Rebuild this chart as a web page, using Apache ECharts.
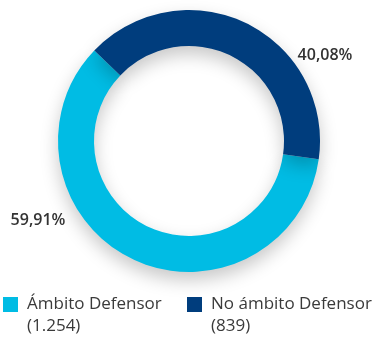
<!DOCTYPE html>
<html>
<head>
<meta charset="utf-8">
<script src="https://cdn.jsdelivr.net/npm/echarts@6/dist/echarts.min.js"></script>
<style>
  html, body { margin: 0; padding: 0; background: #fff; }
  #chart { width: 373px; height: 340px; }
</style>
</head>
<body>
<div id="chart"></div>
<script>
// data
const names = ['Ámbito Defensor', 'No ámbito Defensor'];
const counts = [1254, 839];
const countLabels = ['(1.254)', '(839)'];
const pctLabels = ['59,91%', '40,08%'];
const colors = ['#00BCE4', '#003D7D'];

const chart = echarts.init(document.getElementById('chart'));

let pieData = names.map(function (n, i) {
  return { name: n, value: counts[i], itemStyle: { color: colors[i] } };
});

// where the percent labels sit
const labelPos = [
  { x: 38, y: 220 },
  { x: 325, y: 55 }
];
const legendLeft = [3, 187];

function makeLegend(i) {
  return {
    data: [names[i]],
    left: legendLeft[i],
    top: 291,
    padding: 0,
    icon: 'rect',
    itemWidth: 15,
    itemHeight: 15,
    textStyle: {
      fontFamily: 'Open Sans',
      fontSize: 17,
      lineHeight: 19,
      color: '#3a3a3a',
      padding: [8, 0, 0, 4]
    }
  };
}

// second line under each legend entry (the counts)
let countTexts = countLabels.map(function (t, i) {
  return {
    type: 'text',
    left: legendLeft[i] + 24,
    top: 318,
    style: {
      text: t,
      fontFamily: 'Open Sans',
      fontSize: 17,
      fill: '#3a3a3a'
    }
  };
});

let option = {
  animation: false,
  legend: [makeLegend(0), makeLegend(1)],
  graphic: countTexts,
  series: [
    {
      type: 'pie',
      center: [189, 141],
      radius: [95, 131],
      startAngle: -8,
      clockwise: true,
      silent: true,
      data: pieData,
      itemStyle: {
        shadowColor: 'rgba(0,0,0,0.22)',
        shadowBlur: 18,
        shadowOffsetY: 8
      },
      label: {
        show: true,
        position: 'outside',
        formatter: function (p) {
          return pctLabels[p.dataIndex];
        },
        fontFamily: 'Open Sans',
        fontSize: 16,
        fontWeight: 600,
        color: '#333'
      },
      labelLine: { show: false },
      labelLayout: function (p) {
        return {
          x: labelPos[p.dataIndex].x,
          y: labelPos[p.dataIndex].y,
          align: 'center',
          verticalAlign: 'middle'
        };
      }
    }
  ]
};

chart.setOption(option);
</script>
</body>
</html>
